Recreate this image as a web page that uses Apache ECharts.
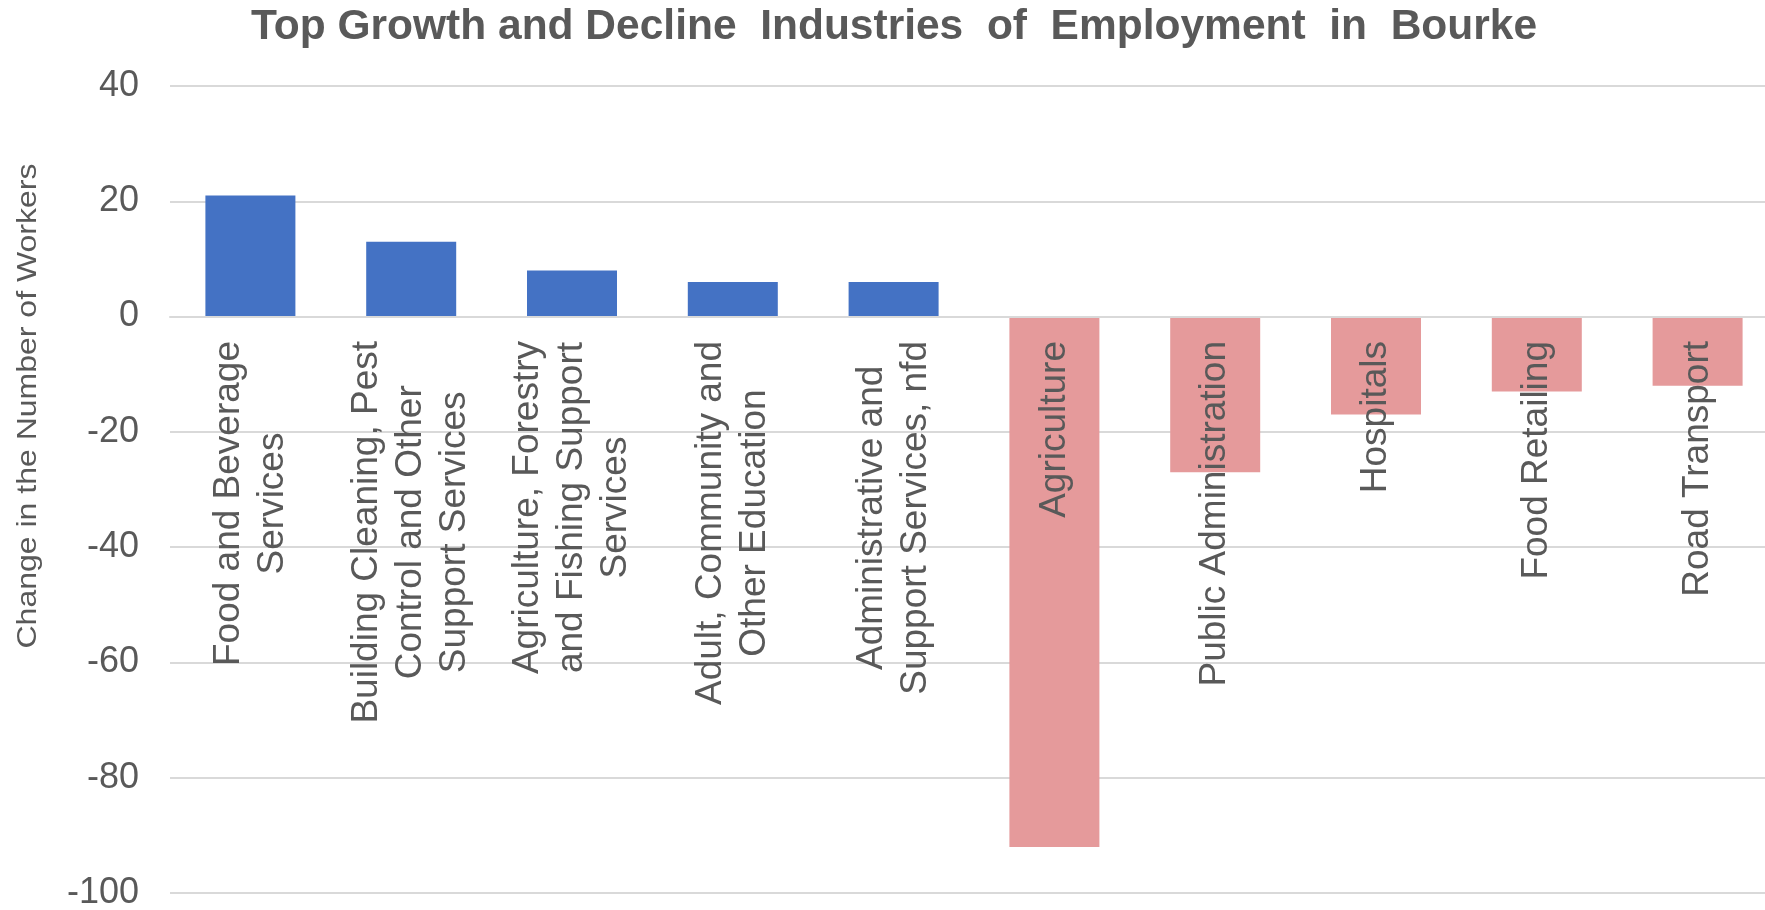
<!DOCTYPE html>
<html>
<head>
<meta charset="utf-8">
<script src="https://cdn.jsdelivr.net/npm/echarts@6/dist/echarts.min.js"></script>
<style>
html,body{margin:0;padding:0;background:#fff;}
#chart{width:1765px;height:910px;}
</style>
</head>
<body>
<div id="chart"></div>
<script>
// Data
var titleText = 'Top Growth and Decline  Industries  of  Employment  in  Bourke';
var yAxisName = 'Change in the Number of Workers';
var categories = [
  'Food and Beverage\nServices',
  'Building Cleaning, Pest\nControl and Other\nSupport Services',
  'Agriculture, Forestry\nand Fishing Support\nServices',
  'Adult, Community and\nOther Education',
  'Administrative and\nSupport Services, nfd',
  'Agriculture',
  'Public Administration',
  'Hospitals',
  'Food Retailing',
  'Road Transport'
];
var changeValues = [21, 13, 8, 6, 6, -92, -27, -17, -13, -12];
var yTicks = { min: -100, max: 40, interval: 20 };

var growthColor = '#4472C4';
var declineColor = '#E59A9B';
var textColor = '#595959';
var fontFam = '"Liberation Sans", Arial, sans-serif';

var chart = echarts.init(document.getElementById('chart'));
chart.setOption({
  animation: false,
  backgroundColor: '#ffffff',
  title: {
    text: titleText,
    left: 889,
    top: 1,
    textAlign: 'center',
    textStyle: { color: textColor, fontSize: 42.5, fontWeight: 'bold', fontFamily: fontFam }
  },
  grid: { left: 170, right: -13, top: 86, bottom: 17, containLabel: false, outerBoundsMode: 'none' },
  xAxis: {
    type: 'category',
    data: categories,
    z: 10,
    axisLine: { show: true, onZero: true, lineStyle: { color: '#d9d9d9', width: 2 } },
    axisTick: { show: false },
    axisLabel: {
      interval: 0,
      rotate: 90,
      margin: -552,
      hideOverlap: false,
      formatter: function (v) {
        return v.split('\n').map(function (s) { return '{c|' + s + '}'; }).join('\n');
      },
      rich: {
        c: { align: 'center', fontSize: 37, lineHeight: 44, color: textColor, fontFamily: fontFam }
      }
    }
  },
  yAxis: {
    type: 'value',
    min: yTicks.min,
    max: yTicks.max,
    interval: yTicks.interval,
    axisLine: { show: false },
    axisTick: { show: false },
    axisLabel: { color: textColor, fontSize: 36, margin: 31, fontFamily: fontFam },
    splitLine: { lineStyle: { color: '#d9d9d9', width: 2 } }
  },
  graphic: [{
    type: 'text',
    x: 28,
    y: 406,
    rotation: Math.PI / 2,
    scaleY: 0.85,
    z: 10,
    style: {
      text: yAxisName,
      fill: textColor,
      font: '32px ' + fontFam,
      align: 'center',
      verticalAlign: 'middle'
    }
  }],
  series: [{
    type: 'bar',
    data: changeValues,
    barWidth: 90,
    z: 1,
    itemStyle: {
      color: function (p) { return p.value >= 0 ? growthColor : declineColor; }
    }
  }]
});
</script>
</body>
</html>
